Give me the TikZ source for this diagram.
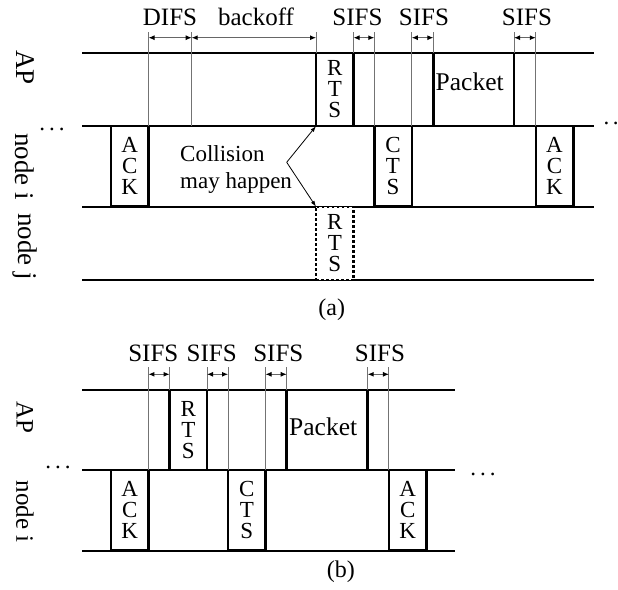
\documentclass[tikz,border=0pt]{standalone}
\usepackage{fontspec}
\setmainfont{Liberation Serif}
\usetikzlibrary{arrows.meta}
\begin{document}
\begin{tikzpicture}[x=1pt,y=-1pt,
  tl/.style={line width=1.8pt},
  tickline/.style={line width=1pt, black!55},
  dimarr/.style={line width=1pt, black!60, {Latex[length=6pt,width=5pt,black]}-{Latex[length=6pt,width=5pt,black]}},
  collarr/.style={line width=0.8pt, -{Latex[length=6pt,width=4pt]}},
  frm/.style={draw, line width=2.5pt, fill=white, inner sep=0pt, outer sep=0pt, align=center, font=\fontsize{23}{21}\selectfont},
  smallfrm/.style={frm, minimum width=37.5pt},
  pktfrm/.style={frm, text width=76pt, align=left, font=\fontsize{25.5}{27}\selectfont, text height=16.3pt},
  lab/.style={anchor=base, inner sep=0pt, font=\fontsize{25}{27}\selectfont},
  sidelab/.style={rotate=-90, inner sep=0pt},
  dotlab/.style={anchor=base, inner sep=0pt, font=\fontsize{23}{25}\selectfont},
  captxt/.style={inner sep=0pt, font=\fontsize{24}{26}\selectfont}]
\useasboundingbox (0,0) rectangle (618,589);
\newcommand{\mydots}{.\kern4pt.\kern4pt.}
% ---------------- (a) ----------------
\coordinate (tA) at (0,31.7);
\coordinate (arA) at (0,37.7);
\coordinate (a0l) at (82,52.7);  \coordinate (a0r) at (594,52.7);
\coordinate (a1l) at (82,126);   \coordinate (a1r) at (594,126);
\coordinate (a2l) at (82,206.7); \coordinate (a2r) at (594,206.7);
\coordinate (a3l) at (82,280);   \coordinate (a3r) at (594,280);
\draw[tl] (a0l) -- (a0r);
\draw[tl] (a1l) -- (a1r);
\draw[tl] (a2l) -- (a2r);
\draw[tl] (a3l) -- (a3r);
\coordinate (bkA) at (191.7,126);

\node[smallfrm, minimum height=80.7pt] (ackA) at (129.8,166.3) {A\\C\\K};
\node[smallfrm, minimum height=73.3pt] (rtsA) at (334.8,89.4) {R\\T\\S};
\node[smallfrm, minimum height=80.7pt] (ctsA) at (393,166.3) {C\\T\\S};
\node[pktfrm, minimum width=80.7pt, minimum height=73.3pt, text depth=13.7pt] (pktA) at (473.7,89.4) {Packet};
\node[smallfrm, minimum height=80.7pt] (ackA2) at (554.5,166.3) {A\\C\\K};
\node[smallfrm, minimum height=73.3pt, dash pattern=on 2.5pt off 2.5pt] (rtsJ) at (334.8,243.4) {R\\T\\S};

\foreach \p in {ackA.north east, bkA, rtsA.north west, rtsA.north east, ctsA.north west, ctsA.north east, pktA.north west, pktA.north east, ackA2.north west}
  \draw[tickline] (\p) -- (\p |- tA);

\draw[dimarr] (ackA.north east |- arA) -- (bkA |- arA);
\draw[dimarr] (bkA |- arA) -- (rtsA.north west |- arA);
\draw[dimarr] (rtsA.north east |- arA) -- (ctsA.north west |- arA);
\draw[dimarr] (ctsA.north east |- arA) -- (pktA.north west |- arA);
\draw[dimarr] (pktA.north east |- arA) -- (ackA2.north west |- arA);

\node[lab] (difs) at (170,25) {DIFS};
\node[lab] (bko) at (256,25) {backoff};
\node[lab] (sa1) at (357.5,25) {SIFS};
\node[lab] (sa2) at (424,25) {SIFS};
\node[lab] (sa3) at (527,25) {SIFS};

\node[anchor=west, inner sep=0pt, align=left, font=\fontsize{23}{26.7}\selectfont] (colltxt) at (180,169.7) {Collision\\may happen};
\coordinate (vtx) at (286.7,162.3);
\draw[collarr] (vtx) -- (rtsA.south west);
\draw[collarr] (vtx) -- (rtsJ.north west);

\node[sidelab, font=\fontsize{27}{29}\selectfont] (apA) at (25,67.5) {AP};
\node[sidelab, font=\fontsize{27}{29}\selectfont] (niA) at (25,166.7) {node i};
\node[sidelab, font=\fontsize{27}{29}\selectfont] (njA) at (25,246.7) {node j};
\node[dotlab] (dlA) at (52,130.6) {\mydots};
\node[dotlab, anchor=base west] (drA) at (603.5,124) {.\kern3.5pt.};
\node[captxt] (capa) at (331.7,310) {(a)};

% ---------------- (b) ----------------
\coordinate (tB) at (0,366.7);
\coordinate (arB) at (0,374.3);
\coordinate (b0l) at (82,390);   \coordinate (b0r) at (455,390);
\coordinate (b1l) at (82,470);   \coordinate (b1r) at (455,470);
\coordinate (b2l) at (82,550.7); \coordinate (b2r) at (455,550.7);
\draw[tl] (b0l) -- (b0r);
\draw[tl] (b1l) -- (b1r);
\draw[tl] (b2l) -- (b2r);

\node[smallfrm, minimum height=80.7pt] (ackB) at (129.7,510.3) {A\\C\\K};
\node[smallfrm, minimum height=80pt] (rtsB) at (188.3,430) {R\\T\\S};
\node[smallfrm, minimum height=80.7pt] (ctsB) at (246.8,510.3) {C\\T\\S};
\node[pktfrm, minimum width=81pt, minimum height=80pt, text depth=6.3pt] (pktB) at (327.2,430) {Packet};
\node[smallfrm, minimum height=80.7pt] (ackB2) at (407.7,510.3) {A\\C\\K};

\foreach \p in {ackB.north east, rtsB.north west, rtsB.north east, ctsB.north west, ctsB.north east, pktB.north west, pktB.north east, ackB2.north west}
  \draw[tickline] (\p) -- (\p |- tB);

\draw[dimarr] (ackB.north east |- arB) -- (rtsB.north west |- arB);
\draw[dimarr] (rtsB.north east |- arB) -- (ctsB.north west |- arB);
\draw[dimarr] (ctsB.north east |- arB) -- (pktB.north west |- arB);
\draw[dimarr] (pktB.north east |- arB) -- (ackB2.north west |- arB);

\node[lab] (sb1) at (153.3,361.7) {SIFS};
\node[lab] (sb2) at (211.7,361.7) {SIFS};
\node[lab] (sb3) at (278.3,361.7) {SIFS};
\node[lab] (sb4) at (380,361.7) {SIFS};

\node[sidelab, font=\fontsize{25}{27}\selectfont] (apB) at (25,417.5) {AP};
\node[sidelab, font=\fontsize{25}{27}\selectfont] (niB) at (25,511.7) {node i};
\node[dotlab] (dlB) at (58,468) {\mydots};
\node[dotlab] (drB) at (483,475.3) {\mydots};
\node[captxt] (capb) at (340.8,571.7) {(b)};
\end{tikzpicture}
\end{document}
